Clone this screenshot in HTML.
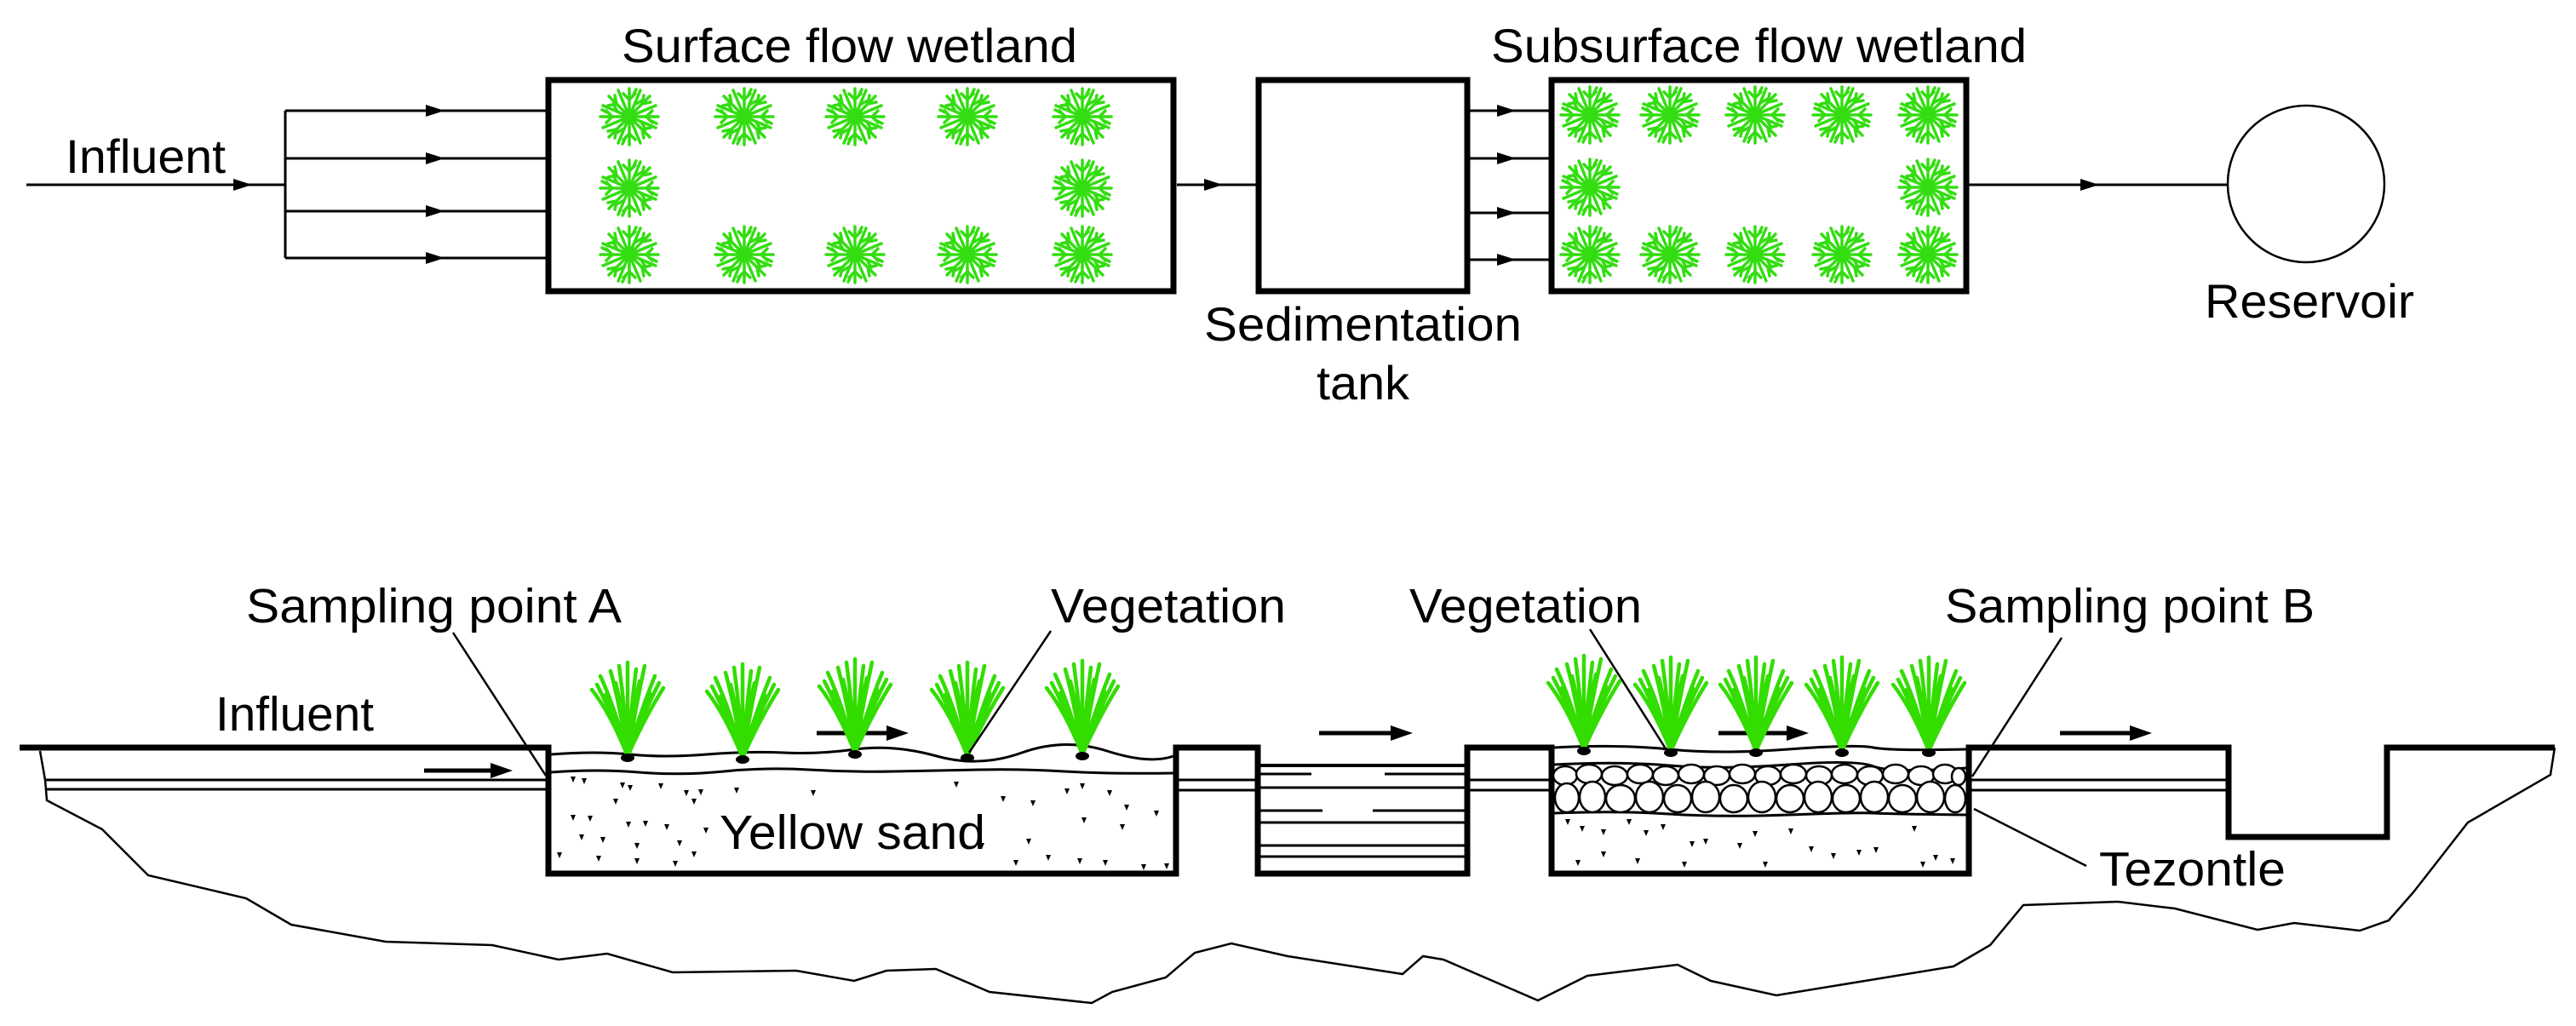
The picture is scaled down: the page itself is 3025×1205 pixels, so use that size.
<!DOCTYPE html>
<html><head><meta charset="utf-8"><style>
html,body{margin:0;padding:0;background:#fff;}
svg{display:block;}
text{font-family:"Liberation Sans",Arial,sans-serif;fill:#000;}
</style></head><body>
<svg width="3025" height="1205" viewBox="0 0 3025 1205" xmlns="http://www.w3.org/2000/svg">
<defs>
<g id="burst" stroke="#33dd11" stroke-width="3.5" fill="none" stroke-linecap="round">
<path d="M-34,0H34M0,-33V33M-24,-24L24,24M24,-24L-24,24M-31,-13L31,13M-31,13L31,-13M-13,-31L13,31M13,-31L-13,31"/>
<path d="M-20,0l-7,-7M-20,0l-7,7M20,0l7,-7M20,0l7,7M0,-20l-7,-7M0,-20l7,-7M0,20l-7,7M0,20l7,7M-15,-15l-2,-10M15,-15l10,-2M15,15l2,10M-15,15l-10,2M-15,-15l-10,2M15,-15l2,-10M15,15l10,-2M-15,15l-2,10M-14,-6l-5,-9M14,6l5,9M6,-14l9,-5M-6,14l-9,5M-26,-5l-6,-3M26,5l6,3M-5,26l-3,6M5,-26l3,-6"/>
</g>
<g id="grass" stroke="#33dd00" stroke-width="4.5" fill="none" stroke-linecap="round">
<path d="M0,0Q-20,-50-42,-78M0,0Q-14,-55-32,-94M0,0Q-8,-55-20,-100M0,0Q-3,-55-10,-106M0,0Q0,-55 0,-110M0,0Q4,-55 10,-102M0,0Q9,-55 20,-106M0,0Q14,-50 32,-94M0,0Q20,-45 42,-80M0,0Q-10,-40-26,-72M0,0Q10,-40 26,-74M0,0Q-5,-50-14,-86M0,0Q5,-50 14,-88M0,0Q-16,-45-36,-84M0,0Q16,-45 37,-86"/>
<ellipse cx="0" cy="2" rx="8" ry="5" fill="#000" stroke="none"/>
</g>
<path id="ahs" d="M0,0L-22,-7L-22,7z" fill="#000"/>
<path id="ahb" d="M0,0L-26,-9L-26,9z" fill="#000"/>
</defs>

<!-- TOP DIAGRAM -->
<g stroke="#000" fill="none">
<rect x="644" y="94" width="734" height="248" stroke-width="7"/>
<rect x="1478" y="94" width="245" height="248" stroke-width="7"/>
<rect x="1822" y="94" width="487" height="248" stroke-width="7"/>
<circle cx="2708" cy="216" r="92" stroke-width="2.5"/>
<g stroke-width="3">
<line x1="31" y1="217" x2="335" y2="217"/>
<line x1="335" y1="130" x2="335" y2="303"/>
<line x1="335" y1="130" x2="641" y2="130"/><line x1="335" y1="186" x2="641" y2="186"/>
<line x1="335" y1="248" x2="641" y2="248"/><line x1="335" y1="303" x2="641" y2="303"/>
<line x1="1382" y1="217" x2="1475" y2="217"/>
<line x1="1726" y1="130" x2="1819" y2="130"/><line x1="1726" y1="186" x2="1819" y2="186"/>
<line x1="1726" y1="250" x2="1819" y2="250"/><line x1="1726" y1="305" x2="1819" y2="305"/>
<line x1="2312" y1="217" x2="2616" y2="217"/>
</g>
</g>
<g>
<use href="#ahs" x="296" y="217"/>
<use href="#ahs" x="522" y="130"/><use href="#ahs" x="522" y="186"/><use href="#ahs" x="522" y="248"/><use href="#ahs" x="522" y="303"/>
<use href="#ahs" x="1436" y="217"/>
<use href="#ahs" x="1780" y="130"/><use href="#ahs" x="1780" y="186"/><use href="#ahs" x="1780" y="250"/><use href="#ahs" x="1780" y="305"/>
<use href="#ahs" x="2465" y="217"/>
</g>
<g>
<use href="#burst" x="739" y="137"/><use href="#burst" x="874" y="137"/><use href="#burst" x="1004" y="137"/><use href="#burst" x="1136" y="137"/><use href="#burst" x="1271" y="137"/>
<use href="#burst" x="739" y="221"/><use href="#burst" x="1271" y="221"/>
<use href="#burst" x="739" y="299"/><use href="#burst" x="874" y="299"/><use href="#burst" x="1004" y="299"/><use href="#burst" x="1136" y="299"/><use href="#burst" x="1271" y="299"/>
<use href="#burst" x="1867" y="135"/><use href="#burst" x="1961" y="135"/><use href="#burst" x="2061" y="135"/><use href="#burst" x="2163" y="135"/><use href="#burst" x="2264" y="135"/>
<use href="#burst" x="1867" y="220"/><use href="#burst" x="2264" y="220"/>
<use href="#burst" x="1867" y="299"/><use href="#burst" x="1961" y="299"/><use href="#burst" x="2061" y="299"/><use href="#burst" x="2163" y="299"/><use href="#burst" x="2264" y="299"/>
</g>
<g font-size="56">
<text x="730" y="73" textLength="535" lengthAdjust="spacingAndGlyphs">Surface flow wetland</text>
<text x="1751" y="73" textLength="629" lengthAdjust="spacingAndGlyphs">Subsurface flow wetland</text>
<text x="77" y="203" textLength="188" lengthAdjust="spacingAndGlyphs">Influent</text>
<text x="1414" y="400" textLength="373" lengthAdjust="spacingAndGlyphs">Sedimentation</text>
<text x="1546" y="469" textLength="109" lengthAdjust="spacingAndGlyphs">tank</text>
<text x="2589" y="373" textLength="246" lengthAdjust="spacingAndGlyphs">Reservoir</text>
</g>

<!-- BOTTOM DIAGRAM -->
<g stroke="#000" fill="none">
<path d="M23,878H644V1026H1381V878H1477V1026H1723V878H1822V1026H2312V878H2617V983H2803V878H3000" stroke-width="7" stroke-linejoin="miter"/>
<g stroke-width="3">
<line x1="53" y1="916" x2="644" y2="916"/><line x1="53" y1="927" x2="644" y2="927"/>
<line x1="1384" y1="916" x2="1474" y2="916"/><line x1="1384" y1="928" x2="1474" y2="928"/>
<line x1="1726" y1="916" x2="1819" y2="916"/><line x1="1726" y1="928" x2="1819" y2="928"/>
<line x1="2315" y1="916" x2="2614" y2="916"/><line x1="2315" y1="928" x2="2614" y2="928"/>
<line x1="1480" y1="899" x2="1720" y2="899" stroke-width="4"/>
<line x1="1480" y1="909" x2="1540" y2="909"/><line x1="1626" y1="909" x2="1720" y2="909"/>
<line x1="1480" y1="925" x2="1720" y2="925"/>
<line x1="1480" y1="952" x2="1553" y2="952"/><line x1="1612" y1="952" x2="1720" y2="952"/>
<line x1="1480" y1="966" x2="1720" y2="966"/>
<line x1="1480" y1="993" x2="1720" y2="993"/>
<line x1="1480" y1="1006" x2="1720" y2="1006"/>
</g>
<path d="M47,882L53,916L55,940L120,974L174,1028L289,1055L342,1086L453,1106L578,1110L656,1127L713,1120L790,1142L935,1140L1003,1152L1041,1140L1099,1138L1162,1165L1282,1178L1306,1165L1369,1148L1403,1119L1446,1108L1512,1123L1647,1144L1671,1123L1695,1127L1806,1175L1864,1146L1970,1133L2009,1152L2086,1169L2294,1135L2337,1110L2376,1063L2487,1059L2554,1067L2651,1092L2694,1084L2771,1093L2805,1081L2834,1048L2898,966L2995,910L3000,878" stroke-width="2.5"/>
<path d="M647,886Q700,882 740,886T830,886T920,884T1005,880T1100,888T1200,884T1300,882T1378,888" stroke-width="3"/>
<path d="M647,907Q700,903 750,907T850,906T950,904T1050,906T1150,904T1250,906T1378,908" stroke-width="3"/>
<path d="M1825,878Q1900,874 1960,880T2100,880T2200,878T2309,880" stroke-width="3"/>
<path d="M1825,898Q1900,894 1960,899T2100,898T2200,900T2309,902" stroke-width="3"/>
<path d="M1825,955Q1900,952 1960,956T2100,957T2200,955T2309,957" stroke-width="3"/>
<g stroke-width="5">
<line x1="498" y1="905" x2="585" y2="905"/>
<line x1="959" y1="861" x2="1045" y2="861"/>
<line x1="1549" y1="861" x2="1635" y2="861"/>
<line x1="2018" y1="861" x2="2100" y2="861"/>
<line x1="2419" y1="861" x2="2505" y2="861"/>
</g>
</g>
<g>
<use href="#ahb" x="602" y="905"/><use href="#ahb" x="1067" y="861"/><use href="#ahb" x="1659" y="861"/><use href="#ahb" x="2124" y="861"/><use href="#ahb" x="2527" y="861"/>
</g>
<!-- gravel -->
<g stroke="#000" stroke-width="2.5" fill="#fff">
<ellipse cx="1838" cy="911" rx="14" ry="11"/><ellipse cx="1866" cy="909" rx="15" ry="11"/><ellipse cx="1896" cy="911" rx="15" ry="11"/><ellipse cx="1926" cy="909" rx="15" ry="11"/><ellipse cx="1956" cy="911" rx="15" ry="11"/><ellipse cx="1986" cy="909" rx="15" ry="11"/><ellipse cx="2016" cy="911" rx="15" ry="11"/><ellipse cx="2046" cy="909" rx="15" ry="11"/><ellipse cx="2076" cy="911" rx="15" ry="11"/><ellipse cx="2106" cy="909" rx="15" ry="11"/><ellipse cx="2136" cy="911" rx="15" ry="11"/><ellipse cx="2166" cy="909" rx="15" ry="11"/><ellipse cx="2196" cy="911" rx="15" ry="11"/><ellipse cx="2226" cy="909" rx="15" ry="11"/><ellipse cx="2256" cy="911" rx="15" ry="11"/><ellipse cx="2284" cy="909" rx="14" ry="11"/><ellipse cx="2300" cy="912" rx="8" ry="10"/>
<ellipse cx="1840" cy="937" rx="14" ry="17"/><ellipse cx="1870" cy="936" rx="15" ry="18"/><ellipse cx="1903" cy="938" rx="17" ry="16"/><ellipse cx="1937" cy="936" rx="16" ry="18"/><ellipse cx="1970" cy="938" rx="16" ry="16"/><ellipse cx="2003" cy="936" rx="16" ry="18"/><ellipse cx="2036" cy="938" rx="16" ry="16"/><ellipse cx="2069" cy="936" rx="16" ry="18"/><ellipse cx="2102" cy="938" rx="16" ry="16"/><ellipse cx="2135" cy="936" rx="16" ry="18"/><ellipse cx="2168" cy="938" rx="16" ry="16"/><ellipse cx="2201" cy="936" rx="16" ry="18"/><ellipse cx="2234" cy="938" rx="16" ry="16"/><ellipse cx="2267" cy="936" rx="16" ry="18"/><ellipse cx="2296" cy="938" rx="12" ry="16"/>
</g>
<g fill="#000">
<path d="M670,912l6,0l-3,7z M683,914l6,0l-3,7z M728,919l6,0l-3,7z M737,922l6,0l-3,7z M773,920l6,0l-3,7z M803,928l6,0l-3,7z M820,927l6,0l-3,7z M812,938l6,0l-3,7z M862,925l6,0l-3,7z M952,928l6,0l-3,7z M720,938l6,0l-3,7z M670,957l6,0l-3,7z M690,958l6,0l-3,7z M735,965l6,0l-3,7z M755,964l6,0l-3,7z M780,968l6,0l-3,7z M826,972l6,0l-3,7z M680,980l6,0l-3,7z M705,983l6,0l-3,7z M745,990l6,0l-3,7z M795,987l6,0l-3,7z M812,1000l6,0l-3,7z M654,1001l6,0l-3,7z M700,1005l6,0l-3,7z M745,1008l6,0l-3,7z M790,1011l6,0l-3,7z M1175,935l6,0l-3,7z M1210,940l6,0l-3,7z M1250,926l6,0l-3,7z M1268,920l6,0l-3,7z M1300,928l6,0l-3,7z M1320,945l6,0l-3,7z M1355,952l6,0l-3,7z M1315,968l6,0l-3,7z M1270,960l6,0l-3,7z M1205,985l6,0l-3,7z M1228,1004l6,0l-3,7z M1265,1008l6,0l-3,7z M1295,1010l6,0l-3,7z M1340,1015l6,0l-3,7z M1367,1014l6,0l-3,7z M1190,1010l6,0l-3,7z M1150,990l6,0l-3,7z M1120,918l6,0l-3,7z"/>
<path d="M1838,962l6,0l-3,7z M1855,970l6,0l-3,7z M1880,974l6,0l-3,7z M1910,962l6,0l-3,7z M1930,975l6,0l-3,7z M1950,968l6,0l-3,7z M1984,988l6,0l-3,7z M2000,985l6,0l-3,7z M2040,990l6,0l-3,7z M2058,976l6,0l-3,7z M2100,973l6,0l-3,7z M2124,994l6,0l-3,7z M2150,1002l6,0l-3,7z M2180,998l6,0l-3,7z M2200,995l6,0l-3,7z M2245,970l6,0l-3,7z M2270,1004l6,0l-3,7z M2290,1008l6,0l-3,7z M1850,1010l6,0l-3,7z M1880,1000l6,0l-3,7z M1920,1008l6,0l-3,7z M1975,1012l6,0l-3,7z M2070,1012l6,0l-3,7z M2255,1012l6,0l-3,7z"/>
</g>
<g>
<use href="#grass" x="737" y="888"/><use href="#grass" x="872" y="890"/><use href="#grass" x="1004" y="884"/><use href="#grass" x="1136" y="888"/><use href="#grass" x="1271" y="886"/>
<use href="#grass" x="1860" y="880"/><use href="#grass" x="1962" y="882"/><use href="#grass" x="2062" y="882"/><use href="#grass" x="2163" y="882"/><use href="#grass" x="2265" y="882"/>
</g>
<g stroke="#000" stroke-width="2.5">
<line x1="532" y1="743" x2="641" y2="911"/>
<line x1="1234" y1="741" x2="1138" y2="884"/>
<line x1="1867" y1="739" x2="1959" y2="884"/>
<line x1="2421" y1="749" x2="2316" y2="912"/>
<line x1="2450" y1="1017" x2="2318" y2="950"/>
</g>
<g font-size="57">
<text x="289" y="731" textLength="441" lengthAdjust="spacingAndGlyphs">Sampling point A</text>
<text x="1234" y="731" textLength="276" lengthAdjust="spacingAndGlyphs">Vegetation</text>
<text x="1655" y="731" textLength="273" lengthAdjust="spacingAndGlyphs">Vegetation</text>
<text x="2284" y="731" textLength="434" lengthAdjust="spacingAndGlyphs">Sampling point B</text>
<text x="253" y="858" textLength="186" lengthAdjust="spacingAndGlyphs">Influent</text>
<text x="845" y="997" textLength="312" lengthAdjust="spacingAndGlyphs">Yellow sand</text>
<text x="2465" y="1040" textLength="219" lengthAdjust="spacingAndGlyphs">Tezontle</text>
</g>
</svg>
</body></html>
